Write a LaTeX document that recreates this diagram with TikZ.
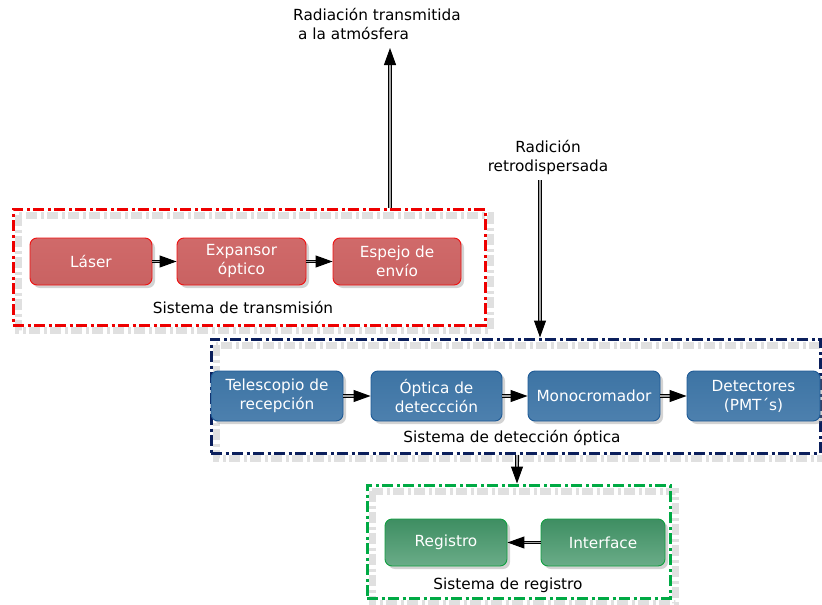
\documentclass[tikz,border=0pt]{standalone}
\usepackage{fontspec}
\setmainfont{DejaVu Sans}
\usetikzlibrary{arrows.meta,shadows,calc}
\definecolor{redfill}{HTML}{C96262}
\definecolor{redfilltop}{HTML}{D06A6A}
\definecolor{redline}{HTML}{F01010}
\definecolor{bluefilltop}{HTML}{3D74A4}
\definecolor{bluefillbot}{HTML}{4D80AE}
\definecolor{blueline}{HTML}{1E5A96}
\definecolor{greenfilltop}{HTML}{3E8E62}
\definecolor{greenfillbot}{HTML}{6AAC88}
\definecolor{greenline}{HTML}{10A040}
\definecolor{frred}{HTML}{EE0000}
\definecolor{frblue}{HTML}{0B1F5C}
\definecolor{frgreen}{HTML}{00AA44}
\begin{document}
\begin{tikzpicture}[x=1pt,y=-1pt,
  txt/.style={font=\fontsize{15.3}{19}\selectfont, align=center, inner sep=0pt},
  boxbase/.style={txt, rounded corners=7pt, line width=0.9pt, text=white,
     drop shadow={shadow xshift=3pt, shadow yshift=-3pt, opacity=0.35}},
  redbox/.style={boxbase, draw=redline, top color=redfilltop, bottom color=redfill, minimum height=47pt},
  bluebox/.style={boxbase, draw=blueline, top color=bluefilltop, bottom color=bluefillbot, minimum height=50pt},
  greenbox/.style={boxbase, draw=greenline, top color=greenfilltop, bottom color=greenfillbot, minimum height=47pt},
  frame/.style={draw=#1, line width=3pt, dash pattern=on 11pt off 3.5pt on 3pt off 3.5pt, inner sep=0pt},
  frshadow/.style={draw=black, opacity=0.12, line width=7pt, dash pattern=on 11pt off 3.5pt on 3pt off 3.5pt},
  dbl/.style={draw=black, double=gray!70, double distance=1.2pt, line width=1pt,
     -{Triangle[length=17pt,width=12pt,fill=black]}},
]
\useasboundingbox (0,0) rectangle (822,605);

% frame shadows
\draw[frshadow] (18,215) rectangle (490,330);
\draw[frshadow] (216,345) rectangle (825,458);
\draw[frshadow] (372,491) rectangle (675,603);

% frames
\node[frame=frred, minimum width=472pt, minimum height=116pt] (ftx) at (249,267) {};
\node[frame=frblue, minimum width=609pt, minimum height=114pt] (fdet) at (515.5,396) {};
\node[frame=frgreen, minimum width=303pt, minimum height=113pt] (freg) at (518.5,541.5) {};

% frame labels
\node[txt] (ltx) at (243,307) {Sistema de transmisión};
\node[txt] (ldet) at (512,438) {Sistema de detección óptica};
\node[txt] (lreg) at (508,585) {Sistema de registro};

% transmission boxes
\node[redbox, minimum width=122pt] (laser) at (91,261.5) {Láser};
\node[redbox, minimum width=129pt] (exp) at (241.5,261.5) {Expansor\\óptico};
\node[redbox, minimum width=128pt] (esp) at (397,261.5) {Espejo de\\envío};

% detection boxes
\node[bluebox, minimum width=132pt] (tel) at (277,396) {Telescopio de\\recepción};
\node[bluebox, minimum width=131pt] (opt) at (436.5,396) {Óptica de\\deteccción};
\node[bluebox, minimum width=132pt] (mono) at (594,396) {Monocromador};
\node[bluebox, minimum width=133pt] (detc) at (753.5,396) {Detectores\\(PMT´s)};

% register boxes
\node[greenbox, minimum width=122pt] (reg) at (446,542.5) {Registro};
\node[greenbox, minimum width=124pt] (intf) at (603,542.5) {Interface};

% top labels
\node[txt, anchor=north west] (rad1) at (293,8) {Radiación transmitida};
\node[txt, anchor=north west] (rad2) at (298,27) {a la atmósfera};
\node[txt] (retro) at (548,157) {Radición\\retrodispersada};

\coordinate (uptip) at (390,48);
\coordinate (downstart) at (540,180);

% arrows
\draw[dbl] (laser.east) -- (exp.west);
\draw[dbl] (exp.east) -- (esp.west);
\draw[dbl] (tel.east) -- (opt.west);
\draw[dbl] (opt.east) -- (mono.west);
\draw[dbl] (mono.east) -- (detc.west);
\draw[dbl] (intf.west) -- (reg.east);
\draw[dbl] (ftx.north -| uptip) -- (uptip);
\draw[dbl] (downstart) -- (downstart |- fdet.north);
\draw[dbl] (fdet.south -| 517,0) -- (517,0 |- freg.north);
\end{tikzpicture}
\end{document}
